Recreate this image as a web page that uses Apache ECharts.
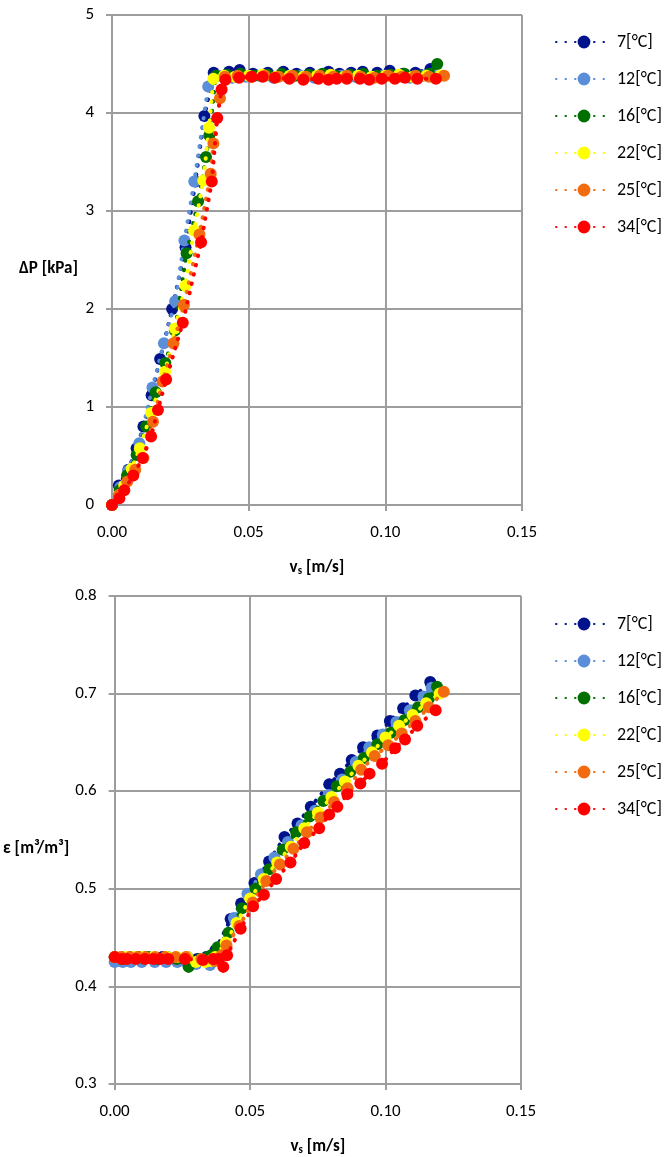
<!DOCTYPE html>
<html>
<head>
<meta charset="utf-8">
<script src="https://cdn.jsdelivr.net/npm/echarts@6/dist/echarts.min.js"></script>
<style>
html,body{margin:0;padding:0;background:#fff;}
#chart{width:668px;height:1157px;}
</style>
</head>
<body>
<div id="chart"></div>
<script>
// ---- Data ----
const seriesNames = ['7[°C]', '12[°C]', '16[°C]', '22[°C]', '25[°C]', '34[°C]'];
const seriesColors = ['#00138C', '#5B8ED8', '#007000', '#FFFF00', '#F26B0F', '#FF0000'];

const xTicks = [0, 0.05, 0.10, 0.15];
const dpTicks = [0, 1, 2, 3, 4, 5];
const epsTicks = [0.3, 0.4, 0.5, 0.6, 0.7, 0.8];

// 7 °C
const vs7  = [0,0.0025,0.006,0.009,0.0115,0.0145,0.0176,0.022,0.0269,0.0305,0.0338,0.0372,0.0428,0.0467,0.0516,0.057,0.0627,0.0675,0.0724,0.0792,0.0832,0.0875,0.0917,0.097,0.1016,0.1065,0.111,0.1165];
const dp7  = [0,0.2,0.36,0.58,0.8,1.12,1.49,2.0,2.63,3.3,3.97,4.41,4.42,4.44,4.4,4.41,4.42,4.4,4.41,4.42,4.4,4.41,4.42,4.41,4.43,4.4,4.41,4.45];
const eps7 = [0.43,0.43,0.428,0.43,0.43,0.428,0.43,0.428,0.43,0.428,0.43,0.437,0.469,0.485,0.506,0.528,0.553,0.567,0.584,0.607,0.618,0.632,0.645,0.657,0.672,0.685,0.698,0.712];

// 12 °C
const vs12  = [0,0.003,0.006,0.010,0.0148,0.019,0.0231,0.0265,0.0301,0.0352,0.039,0.044,0.049,0.054,0.059,0.064,0.069,0.074,0.079,0.084,0.089,0.094,0.099,0.104,0.109,0.114,0.117];
const dp12  = [0,0.18,0.35,0.63,1.2,1.65,2.08,2.7,3.3,4.27,4.38,4.36,4.37,4.38,4.36,4.37,4.38,4.36,4.37,4.38,4.37,4.36,4.38,4.37,4.36,4.38,4.4];
const eps12 = [0.425,0.425,0.425,0.425,0.425,0.425,0.425,0.425,0.423,0.422,0.44,0.47,0.495,0.515,0.532,0.548,0.565,0.58,0.596,0.612,0.63,0.645,0.658,0.671,0.683,0.697,0.706];

// 16 °C
const vs16  = [0,0.0028,0.0055,0.009,0.0125,0.016,0.0195,0.023,0.0273,0.0315,0.0344,0.0356,0.038,0.042,0.047,0.052,0.057,0.062,0.067,0.072,0.077,0.082,0.087,0.092,0.097,0.102,0.107,0.112,0.116,0.119];
const dp16  = [0,0.15,0.3,0.51,0.8,1.15,1.45,1.78,2.57,3.1,3.55,3.77,4.38,4.39,4.4,4.38,4.39,4.4,4.38,4.39,4.4,4.38,4.39,4.4,4.38,4.39,4.4,4.38,4.4,4.5];
const eps16 = [0.43,0.428,0.43,0.43,0.43,0.428,0.43,0.428,0.42,0.428,0.43,0.432,0.44,0.455,0.48,0.50,0.52,0.54,0.558,0.574,0.59,0.605,0.62,0.634,0.648,0.66,0.673,0.686,0.695,0.707];

// 22 °C
const vs22  = [0,0.0025,0.0045,0.0072,0.0102,0.0143,0.0194,0.023,0.0269,0.030,0.0334,0.0355,0.0371,0.041,0.045,0.050,0.055,0.060,0.065,0.070,0.075,0.080,0.085,0.090,0.095,0.100,0.105,0.110,0.115,0.120];
const dp22  = [0,0.1,0.2,0.37,0.58,0.94,1.36,1.8,2.24,2.8,3.31,3.85,4.35,4.38,4.37,4.38,4.39,4.37,4.38,4.37,4.38,4.39,4.37,4.38,4.37,4.38,4.39,4.37,4.38,4.38];
const eps22 = [0.43,0.43,0.43,0.43,0.43,0.43,0.43,0.43,0.43,0.425,0.425,0.426,0.43,0.445,0.465,0.49,0.51,0.527,0.543,0.562,0.578,0.594,0.61,0.626,0.64,0.655,0.667,0.678,0.69,0.70];

// 25 °C
const vs25  = [0,0.0025,0.0056,0.0085,0.0115,0.015,0.0185,0.0225,0.0263,0.032,0.0361,0.0371,0.0395,0.0413,0.046,0.051,0.056,0.061,0.066,0.071,0.076,0.081,0.086,0.091,0.096,0.101,0.106,0.111,0.116,0.1215];
const dp25  = [0,0.1,0.24,0.36,0.48,0.85,1.26,1.65,2.04,2.76,3.38,3.69,4.15,4.37,4.38,4.37,4.38,4.37,4.38,4.37,4.38,4.37,4.38,4.37,4.36,4.38,4.37,4.38,4.37,4.38];
const eps25 = [0.43,0.43,0.43,0.43,0.43,0.43,0.43,0.43,0.43,0.428,0.428,0.426,0.432,0.442,0.462,0.486,0.508,0.525,0.541,0.558,0.573,0.589,0.603,0.622,0.636,0.647,0.659,0.672,0.686,0.702];

// 34 °C
const vs34  = [0,0.0027,0.0045,0.0078,0.0112,0.0143,0.0168,0.0198,0.0259,0.0326,0.0365,0.0385,0.0401,0.0415,0.0465,0.0511,0.0551,0.0596,0.0649,0.0700,0.0755,0.0792,0.0822,0.0859,0.0907,0.0941,0.0987,0.1035,0.1072,0.1117,0.1185];
const dp34  = [0,0.07,0.15,0.30,0.48,0.70,0.97,1.28,1.86,2.68,3.3,3.95,4.24,4.34,4.36,4.37,4.37,4.36,4.35,4.34,4.35,4.34,4.35,4.35,4.35,4.34,4.35,4.35,4.36,4.35,4.35];
const eps34 = [0.43,0.428,0.428,0.428,0.428,0.428,0.428,0.428,0.428,0.427,0.428,0.428,0.420,0.432,0.459,0.482,0.494,0.510,0.527,0.547,0.562,0.576,0.584,0.597,0.608,0.618,0.628,0.644,0.653,0.667,0.683];

const vsList  = [vs7, vs12, vs16, vs22, vs25, vs34];
const dpList  = [dp7, dp12, dp16, dp22, dp25, dp34];
const epsList = [eps7, eps12, eps16, eps22, eps25, eps34];

// ---- Chart ----
const FONT = 'Carlito, Calibri, Lato, "Open Sans", sans-serif';
const gridColor = '#9d9d9d';

function pairs(xs, ys) { return xs.map((x, i) => [x, ys[i]]); }

function makeSeries(gridIdx, ysList) {
  return seriesNames.map((name, k) => ({
    name: name,
    type: 'line',
    xAxisIndex: gridIdx,
    yAxisIndex: gridIdx,
    data: pairs(vsList[k], ysList[k]),
    symbol: 'circle',
    symbolSize: 12,
    showSymbol: true,
    showAllSymbol: true,
    smooth: false,
    color: seriesColors[k],
    itemStyle: { color: seriesColors[k], borderWidth: 0 },
    lineStyle: { color: seriesColors[k], width: 4, type: [0.5, 9], cap: 'round' },
    emphasis: { disabled: true },
    z: 2 + k
  }));
}

function xAxisCfg(gridIdx) {
  return {
    type: 'value', gridIndex: gridIdx,
    min: 0, max: 0.15, interval: 0.05,
    name: '{b|v}{s|s}{b| [m/s]}',
    nameLocation: 'middle', nameGap: 53,
    nameTextStyle: {
      rich: {
        b: { fontFamily: FONT, fontSize: 17, fontWeight: 'bold', color: '#000' },
        s: { fontFamily: FONT, fontSize: 11, fontWeight: 'bold', color: '#000', padding: [8, 0, 0, 0] }
      }
    },
    axisLine: { show: true, lineStyle: { color: gridColor, width: 2 } },
    axisTick: { show: true, inside: false, length: 6, lineStyle: { color: gridColor, width: 2 } },
    axisLabel: { fontFamily: FONT, fontSize: 17, color: '#000', margin: 19,
      formatter: v => v.toFixed(2) },
    splitLine: { show: true, lineStyle: { color: gridColor, width: 2 } }
  };
}

const option = {
  animation: false,
  backgroundColor: '#fff',
  grid: [
    { left: 112, top: 15, width: 410, height: 490 },
    { left: 113, top: 596, width: 408, height: 489 }
  ],
  legend: [0, 1].map(g => ({
    data: seriesNames,
    orient: 'vertical',
    left: 550,
    top: g === 0 ? 27 : 609,
    itemWidth: 56,
    itemHeight: 16,
    itemGap: 17,
    selectedMode: false,
    textStyle: { fontFamily: FONT, fontSize: 18, color: '#000', lineHeight: 20 }
  })),
  xAxis: [xAxisCfg(0), xAxisCfg(1)],
  yAxis: [
    {
      type: 'value', gridIndex: 0, min: 0, max: 5, interval: 1,
      name: 'ΔP [kPa]', nameLocation: 'middle', nameRotate: 0, nameGap: 34,
      nameTextStyle: { fontFamily: FONT, fontSize: 17, fontWeight: 'bold', color: '#000', verticalAlign: 'top' },
      axisLine: { show: true, lineStyle: { color: gridColor, width: 2 } },
      axisTick: { show: true, inside: false, length: 6, lineStyle: { color: gridColor, width: 2 } },
      axisLabel: { fontFamily: FONT, fontSize: 17, color: '#000', margin: 18, formatter: v => String(Math.round(v)) },
      splitLine: { show: true, lineStyle: { color: gridColor, width: 2 } }
    },
    {
      type: 'value', gridIndex: 1, min: 0.3, max: 0.8, interval: 0.1,
      name: 'ε [m³/m³]', nameLocation: 'middle', nameRotate: 0, nameGap: 23,
      nameTextStyle: { fontFamily: FONT, fontSize: 17, fontWeight: 'bold', color: '#000', verticalAlign: 'top' },
      axisLine: { show: true, lineStyle: { color: gridColor, width: 2 } },
      axisTick: { show: true, inside: false, length: 6, lineStyle: { color: gridColor, width: 2 } },
      axisLabel: { fontFamily: FONT, fontSize: 17, color: '#000', margin: 18, formatter: v => v.toFixed(1) },
      splitLine: { show: true, lineStyle: { color: gridColor, width: 2 } }
    }
  ],
  series: [].concat(makeSeries(0, dpList), makeSeries(1, epsList))
};

const chart = echarts.init(document.getElementById('chart'), null, { renderer: 'canvas' });
chart.setOption(option);
</script>
</body>
</html>
